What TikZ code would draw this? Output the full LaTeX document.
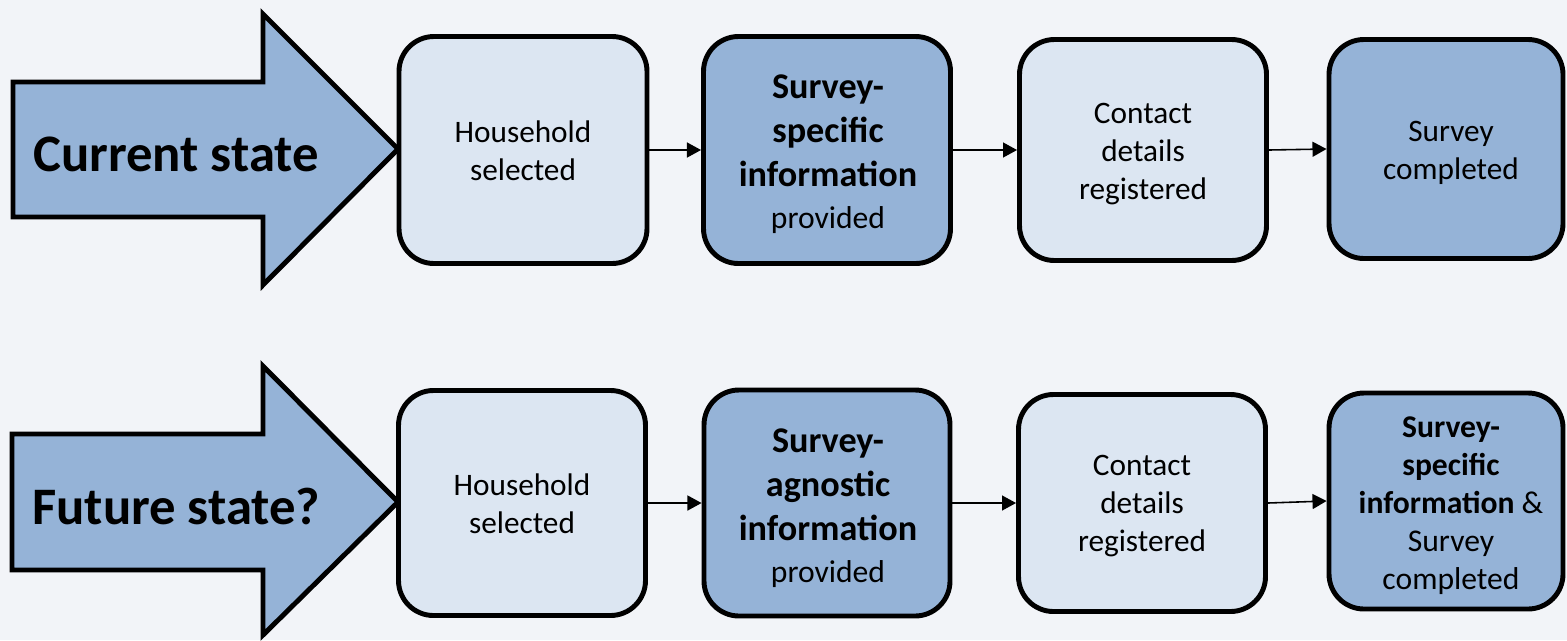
\documentclass[tikz,border=0pt]{standalone}
\usepackage{fontspec}
\setmainfont{Carlito}
\usetikzlibrary{arrows.meta}
\definecolor{bg}{RGB}{242,244,248}
\definecolor{lightbox}{RGB}{220,230,242}
\definecolor{darkbox}{RGB}{149,179,215}
\tikzset{
  stepbox/.style={draw=black, line width=2.8pt, rounded corners=0.7cm, inner sep=0pt},
  lightstep/.style={stepbox, fill=lightbox},
  darkstep/.style={stepbox, fill=darkbox},
  steptext/.style={align=center, inner sep=0pt, font=\fontsize{17.8}{21.5}\selectfont},
  bigtext2/.style={steptext, font=\fontsize{20.6}{24.9}\selectfont},
  bigarrow/.style={draw=black, line width=2.8pt, fill=darkbox, line join=miter},
  bigtext/.style={font=\fontsize{30}{35}\selectfont\bfseries, inner sep=0pt},
  flow/.style={-{Triangle[length=8pt,width=8.5pt]}, line width=0.9pt, black}
}
\newcommand{\pxw}[1]{#1*0.02cm}
\begin{document}
\begin{tikzpicture}[x=0.02cm,y=-0.02cm]
\fill[bg] (0,0) rectangle (1567,640);
\useasboundingbox (0,0) rectangle (1567,640);
% big arrows
\draw[bigarrow] (13,82) -- (263,82) -- (263,14) -- (398,149) -- (263,285) -- (263,217) -- (13,217) -- cycle;
\node[bigtext, anchor=west] (cur) at (33,154) {Current state};
\draw[bigarrow] (12,434) -- (263,434) -- (263,366) -- (398,502) -- (263,635) -- (263,570) -- (12,570) -- cycle;
\node[bigtext, anchor=west] (fut) at (32,506) {Future state?};
% top row boxes
\node[lightstep, minimum width=\pxw{248}, minimum height=\pxw{227}] (t1) at (523,150) {};
\node[darkstep,  minimum width=\pxw{247}, minimum height=\pxw{227}] (t2) at (827,150) {};
\node[lightstep, minimum width=\pxw{247}, minimum height=\pxw{221}] (t3) at (1143,150) {};
\node[darkstep,  minimum width=\pxw{234}, minimum height=\pxw{219}] (t4) at (1446,149) {};
% top row texts
\node[steptext] (t1x) at (523,151) {Household\\selected};
\node[bigtext2] (t2x) at (828,154) {\textbf{Survey-}\\\textbf{specific}\\\textbf{information}\\[-1pt]{\fontsize{18}{21.6}\selectfont provided}};
\node[steptext] (t3x) at (1143,154) {Contact\\details\\registered};
\node[steptext] (t4x) at (1451,153) {Survey\\completed};
% bottom row boxes
\node[lightstep, minimum width=\pxw{247}, minimum height=\pxw{225}] (b1) at (522,503) {};
\node[darkstep,  minimum width=\pxw{246}, minimum height=\pxw{226}] (b2) at (827,503) {};
\node[lightstep, minimum width=\pxw{247}, minimum height=\pxw{217}] (b3) at (1142,503) {};
\node[darkstep,  minimum width=\pxw{234}, minimum height=\pxw{216}] (b4) at (1446,501) {};
% bottom row texts
\node[steptext] (b1x) at (522,504) {Household\\selected};
\node[bigtext2] (b2x) at (828,508) {\textbf{Survey-}\\\textbf{agnostic}\\\textbf{information}\\[-1pt]{\fontsize{18}{21.6}\selectfont provided}};
\node[steptext] (b3x) at (1142,506) {Contact\\details\\registered};
\node[steptext, font=\fontsize{18}{21.6}\selectfont] (b4x) at (1451,506) {\textbf{Survey-}\\\textbf{specific}\\\textbf{information} \&\\Survey\\completed};
% connectors
\draw[flow] (t1.east) -- (t2.west);
\draw[flow] (t2.east) -- (t3.west);
\draw[flow] (t3.east) -- (t4.west);
\draw[flow] (b1.east) -- (b2.west);
\draw[flow] (b2.east) -- (b3.west);
\draw[flow] (b3.east) -- (b4.west);
\end{tikzpicture}
\end{document}
